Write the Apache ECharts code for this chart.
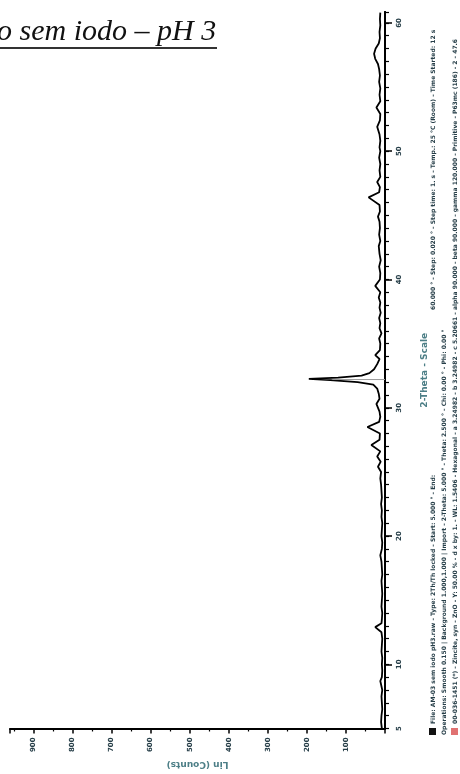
<!DOCTYPE html>
<html>
<head>
<meta charset="utf-8">
<script src="https://cdn.jsdelivr.net/npm/echarts@6/dist/echarts.min.js"></script>
<style>
  html, body { margin: 0; padding: 0; background: #fff; }
  #xrdChart { width: 460px; height: 774px; }
</style>
</head>
<body>
<div id="xrdChart"></div>
<script>
// scan: 2-Theta (deg) and Lin (Counts)
const twoTheta = [
  5.0, 5.5, 6.0, 6.5, 7.0, 7.5, 8.0, 8.7, 9.0, 9.5, 10.0, 10.5, 11.0, 11.5, 12.0, 12.5,
  12.9, 13.2, 13.5, 14.0, 14.5, 15.0, 15.5, 16.0, 16.5, 17.0, 17.5, 18.0, 18.5, 19.0,
  19.5, 20.0, 20.5, 21.0, 21.5, 22.0, 22.5, 23.0, 23.5, 24.0, 24.5, 25.0, 25.4, 25.8,
  26.2, 26.6, 27.1, 27.5, 28.0, 28.5, 28.9, 29.3, 29.7, 30.3, 30.7, 31.1, 31.5, 31.8,
  32.0, 32.15, 32.25, 32.35, 32.5, 32.7, 33.0, 33.4, 33.8, 34.1, 34.5, 35.0, 35.4, 35.8,
  36.2, 36.6, 37.0, 37.4, 37.8, 38.2, 38.6, 39.0, 39.5, 40.0, 40.5, 41.0, 41.5, 42.0,
  42.6, 43.0, 43.5, 44.0, 44.5, 44.9, 45.3, 45.8, 46.4, 46.8, 47.2, 47.6, 48.0, 48.5,
  49.0, 49.5, 50.0, 50.3, 50.8, 51.3, 51.9, 52.4, 52.9, 53.4, 53.9, 54.4, 54.9, 55.4,
  55.9, 56.4, 56.8, 57.2, 57.6, 58.0, 58.4, 58.8, 59.3, 59.8, 60.3, 60.8
];
const counts = [
  8, 10, 9, 7, 8, 9, 7, 12, 8, 7, 8, 7, 9, 8, 7, 9,
  25, 9, 8, 7, 9, 8, 7, 8, 9, 7, 8, 9, 12, 8,
  7, 9, 8, 7, 9, 8, 10, 8, 9, 10, 12, 10, 18, 11,
  20, 12, 35, 14, 13, 45, 15, 12, 14, 22, 14, 16, 20, 30,
  70, 140, 195, 120, 60, 40, 28, 20, 14, 25, 13, 12, 15, 9,
  14, 12, 15, 11, 14, 12, 16, 12, 25, 13, 12, 15, 11, 14,
  16, 12, 15, 13, 14, 18, 13, 14, 42, 15, 13, 20, 12, 14,
  12, 15, 12, 14, 12, 14, 20, 13, 12, 22, 12, 14, 12, 15,
  13, 15, 18, 25, 28, 24, 16, 13, 14, 12, 13, 12
];

// reference pattern stick
const refTheta = [32.2];
const refIntensity = [135];

// axis labels
const thetaLabels = [5, 10, 20, 30, 40, 50, 60];
const thetaMajorTicks = [10, 20, 30, 40, 50, 60];

const legendLineA = 'File: AM-03 sem iodo pH3.raw - Type: 2Th/Th locked - Start: 5.000 ° - End:';
const legendLineB = '60.000 ° - Step: 0.020 ° - Step time: 1. s - Temp.: 25 °C (Room) - Time Started: 12 s';
const legendLineC = 'Operations: Smooth 0.150 | Background 1.000,1.000 | Import - 2-Theta: 5.000 ° - Theta: 2.500 ° - Chi: 0.00 ° - Phi: 0.00 °';
const legendLineD = '00-036-1451 (*) - Zincite, syn - ZnO - Y: 50.00 % - d x by: 1. - WL: 1.5406 - Hexagonal - a 3.24982 - b 3.24982 - c 5.20661 - alpha 90.000 - beta 90.000 - gamma 120.000 - Primitive - P63mc (186) - 2 - 47.6';

const scanData = twoTheta.map((t, i) => [counts[i], t]);
const stickData = [];
refTheta.forEach((t, i) => {
  stickData.push([0, t], [refIntensity[i], t], null);
});

const axisColor = '#000';
const labelColor = '#263e48';
const nameColor = '#4c7e86';

const chart = echarts.init(document.getElementById('xrdChart'));

chart.setOption({
  animation: false,
  backgroundColor: '#fff',
  grid: {
    left: 10,
    right: 75,
    top: 12,
    bottom: 38
  },
  xAxis: {
    type: 'value',
    inverse: true,
    position: 'bottom',
    min: 0,
    max: 960,
    interval: 100,
    name: 'Lin (Counts)',
    nameLocation: 'middle',
    nameGap: 26,
    nameRotate: 180,
    nameTextStyle: {
      color: nameColor,
      fontFamily: 'DejaVu Sans',
      fontSize: 9,
      fontWeight: 'bold'
    },
    axisLine: { lineStyle: { color: axisColor, width: 2 } },
    axisTick: { length: 5, lineStyle: { color: axisColor, width: 1.5 } },
    minorTick: { show: true, splitNumber: 2, length: 3, lineStyle: { color: axisColor, width: 1.2 } },
    axisLabel: {
      rotate: 90,
      margin: 9,
      fontSize: 7,
      fontWeight: 'bold',
      fontFamily: 'DejaVu Sans',
      color: labelColor,
      showMinLabel: false,
      showMaxLabel: false
    },
    splitLine: { show: false }
  },
  yAxis: [{
    type: 'value',
    position: 'right',
    min: 5,
    max: 60.85,
    name: '2-Theta - Scale',
    nameLocation: 'middle',
    nameGap: 35,
    nameRotate: 90,
    nameTextStyle: {
      color: nameColor,
      fontFamily: 'DejaVu Sans',
      fontSize: 9,
      fontWeight: 'bold'
    },
    axisLine: { show: true, lineStyle: { color: axisColor, width: 2 } },
    axisTick: { show: true, customValues: thetaMajorTicks, length: 7, lineStyle: { color: axisColor, width: 1.5 } },
    axisLabel: {
      customValues: thetaLabels,
      rotate: 90,
      margin: 11,
      fontSize: 7,
      fontWeight: 'bold',
      fontFamily: 'DejaVu Sans',
      color: labelColor
    },
    splitLine: { show: false }
  }, {
    // one-degree ticks only
    type: 'value',
    position: 'right',
    min: 5,
    max: 60.85,
    interval: 1,
    axisLine: { show: true, lineStyle: { color: axisColor, width: 2 } },
    axisTick: { show: true, length: 4, lineStyle: { color: axisColor, width: 1.2 } },
    axisLabel: { show: false },
    splitLine: { show: false }
  }],
  series: [{
    type: 'line',
    name: 'scan',
    data: scanData,
    yAxisIndex: 0,
    showSymbol: false,
    lineStyle: { color: '#000', width: 1.8 },
    z: 3
  }, {
    type: 'line',
    name: 'reference',
    data: stickData,
    yAxisIndex: 0,
    showSymbol: false,
    connectNulls: false,
    lineStyle: { color: '#9a9a9a', width: 1 },
    z: 4
  }],
  graphic: [
    {
      type: 'text',
      x: -3,
      y: 17,
      style: {
        text: 'o sem iodo \u2013 pH 3',
        font: 'italic 30px "Liberation Serif"',
        fill: '#111',
        verticalAlign: 'top'
      }
    },
    {
      type: 'rect',
      shape: { x: 0, y: 47, width: 217, height: 2 },
      style: { fill: '#333' }
    },
    {
      type: 'text',
      x: 433,
      y: 724,
      rotation: Math.PI / 2,
      style: {
        text: legendLineA,
        font: 'bold 6px "DejaVu Sans"',
        fill: labelColor,
        align: 'left',
        verticalAlign: 'middle'
      }
    },
    {
      type: 'text',
      x: 433,
      y: 310,
      rotation: Math.PI / 2,
      style: {
        text: legendLineB,
        font: 'bold 6px "DejaVu Sans"',
        fill: labelColor,
        align: 'left',
        verticalAlign: 'middle'
      }
    },
    {
      type: 'text',
      x: 444,
      y: 735,
      rotation: Math.PI / 2,
      style: {
        text: legendLineC,
        font: 'bold 6px "DejaVu Sans"',
        fill: labelColor,
        align: 'left',
        verticalAlign: 'middle'
      }
    },
    {
      type: 'text',
      x: 455,
      y: 724,
      rotation: Math.PI / 2,
      style: {
        text: legendLineD,
        font: 'bold 6px "DejaVu Sans"',
        fill: labelColor,
        align: 'left',
        verticalAlign: 'middle'
      }
    },
    {
      type: 'rect',
      shape: { x: 429, y: 728, width: 7, height: 7 },
      style: { fill: '#111' }
    },
    {
      type: 'rect',
      shape: { x: 451, y: 728, width: 7, height: 7 },
      style: { fill: '#e07272' }
    }
  ]
});
</script>
</body>
</html>
